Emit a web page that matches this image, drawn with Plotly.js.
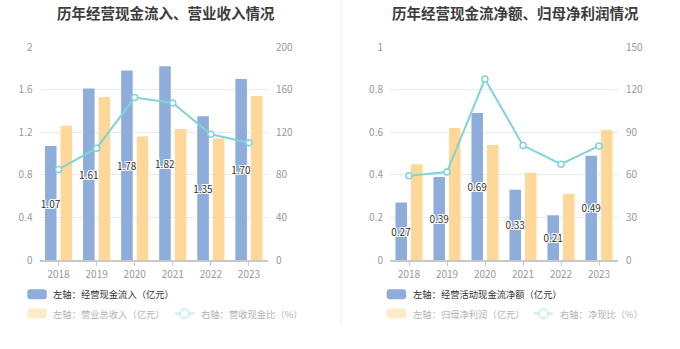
<!DOCTYPE html>
<html>
<head>
<meta charset="utf-8">
<script src="https://cdn.plot.ly/plotly-3.0.1.min.js"></script>
<style>
html,body{margin:0;padding:0;background:#fff;}
#chart{width:680px;height:349px;}
</style>
</head>
<body>
<div id="chart"></div>
<script>
// ---- data ----
var years = ['2018', '2019', '2020', '2021', '2022', '2023'];
var cashIn = [1.07, 1.61, 1.78, 1.82, 1.35, 1.70];          // 经营现金流入（亿元）
var revenue = [1.26, 1.53, 1.16, 1.23, 1.14, 1.54];         // 营业总收入（亿元）
var cashRatio = [85, 105, 152.5, 147.5, 118, 110];          // 营收现金比（%）
var netCash = [0.27, 0.39, 0.69, 0.33, 0.21, 0.49];         // 经营活动现金流净额（亿元）
var netProfit = [0.45, 0.62, 0.54, 0.41, 0.31, 0.61];       // 归母净利润（亿元）
var netRatio = [59.3, 62, 127.5, 80.7, 67.5, 80.3];         // 净现比（%）

var leftTicks = [0, 0.4, 0.8, 1.2, 1.6, 2];
var leftTickText = ['0', '0.4', '0.8', '1.2', '1.6', '2'];
var rightTicks = [0, 40, 80, 120, 160, 200];
var leftTicks2 = [0, 0.2, 0.4, 0.6, 0.8, 1];
var leftTickText2 = ['0', '0.2', '0.4', '0.6', '0.8', '1'];
var rightTicks2 = [0, 30, 60, 90, 120, 150];

var titles = ['历年经营现金流入、营业收入情况', '历年经营现金流净额、归母净利润情况'];
var legendLeft = ['左轴：经营现金流入（亿元）', '左轴：营业总收入（亿元）', '右轴：营收现金比（%）'];
var legendRight = ['左轴：经营活动现金流净额（亿元）', '左轴：归母净利润（亿元）', '右轴：净现比（%）'];

// ---- style ----
var W = 680, H = 349;
var BLUE = '#8eaddb', ORANGE = '#ffd899', TEAL = '#80d4d8';
var FONT = '"Noto Sans CJK SC", "Noto Sans", sans-serif';
function X(px) { return px / W; }
function Y(py) { return 1 - py / H; }

var labelFont = {family: FONT, size: 10, color: '#333',
  shadow: '-1px -1px 0 #fff, 1px -1px 0 #fff, -1px 1px 0 #fff, 1px 1px 0 #fff, 0 1px 0 #fff, 0 -1px 0 #fff, 1px 0 0 #fff, -1px 0 0 #fff'};

function barTrace(x, y, color, xa, ya, withText) {
  var t = {type: 'bar', x: x, y: y, xaxis: xa, yaxis: ya,
    marker: {color: color, line: {width: 0}}, showlegend: false, hoverinfo: 'x+y'};
  if (withText) {
    t.texttemplate = '%{y:.2f}';
    t.textposition = 'inside';
    t.insidetextanchor = 'middle';
    t.constraintext = 'none';
    t.textangle = 0;
    t.insidetextfont = labelFont;
    t.textfont = labelFont;
  }
  return t;
}
function lineTrace(x, y, xa, ya) {
  return {type: 'scatter', mode: 'lines+markers', x: x, y: y, xaxis: xa, yaxis: ya,
    line: {color: TEAL, width: 2},
    marker: {symbol: 'circle', size: 6, color: '#fff', line: {color: TEAL, width: 1.5}},
    showlegend: false, cliponaxis: false};
}

var data = [
  barTrace(years, cashIn, BLUE, 'x', 'y', true),
  barTrace(years, revenue, ORANGE, 'x', 'y', false),
  lineTrace(years, cashRatio, 'x', 'y2'),
  barTrace(years, netCash, BLUE, 'x2', 'y3', true),
  barTrace(years, netProfit, ORANGE, 'x2', 'y3', false),
  lineTrace(years, netRatio, 'x2', 'y4')
];

var tickFont = {family: FONT, size: 10, color: '#999'};
function xAxis(domain, anchor) {
  return {domain: domain, anchor: anchor, type: 'category', showgrid: false,
    showline: true, linecolor: '#c8c8c8', linewidth: 1.5,
    ticks: 'outside', ticklen: 4, tickcolor: '#c8c8c8', tickfont: tickFont,
    fixedrange: true, zeroline: false};
}
function yLeft(domain, anchor, range, vals, text) {
  return {domain: domain, anchor: anchor, range: range, tickvals: vals, ticktext: text,
    showgrid: true, gridcolor: '#e6eaf4', gridwidth: 1, zeroline: false, showline: false,
    ticks: '', tickfont: tickFont, ticklabelstandoff: 6, fixedrange: true};
}
function yRight(overlay, anchor, range, vals) {
  return {overlaying: overlay, anchor: anchor, side: 'right', range: range, tickvals: vals,
    showgrid: false, zeroline: false, showline: false, ticks: '', tickfont: tickFont,
    ticklabelstandoff: 7, fixedrange: true};
}

var yDom = [Y(260), Y(47)];

function rrect(x0, y0, x1, y1, r) {
  // rounded rectangle path in paper coordinates, given pixel coords
  var p = 'M' + X(x0 + r) + ',' + Y(y0) +
    ' L' + X(x1 - r) + ',' + Y(y0) +
    ' Q' + X(x1) + ',' + Y(y0) + ' ' + X(x1) + ',' + Y(y0 + r) +
    ' L' + X(x1) + ',' + Y(y1 - r) +
    ' Q' + X(x1) + ',' + Y(y1) + ' ' + X(x1 - r) + ',' + Y(y1) +
    ' L' + X(x0 + r) + ',' + Y(y1) +
    ' Q' + X(x0) + ',' + Y(y1) + ' ' + X(x0) + ',' + Y(y1 - r) +
    ' L' + X(x0) + ',' + Y(y0 + r) +
    ' Q' + X(x0) + ',' + Y(y0) + ' ' + X(x0 + r) + ',' + Y(y0) + ' Z';
  return {type: 'path', xref: 'paper', yref: 'paper', path: p,
    line: {width: 0}, layer: 'above'};
}

var shapes = [];
var annotations = [];
function legendBlock(ox, names, rowLineX) {
  var s1 = rrect(ox, 289.3, ox + 19.5, 299.3, 3); s1.fillcolor = BLUE; shapes.push(s1);
  var s2 = rrect(ox, 308.5, ox + 19.5, 318.5, 3); s2.fillcolor = '#ffebcb'; shapes.push(s2);
  // line symbol
  shapes.push({type: 'line', xref: 'paper', yref: 'paper',
    x0: X(rowLineX), x1: X(rowLineX + 19), y0: Y(313.5), y1: Y(313.5),
    line: {color: '#c4ecee', width: 2}});
  shapes.push({type: 'circle', xref: 'paper', yref: 'paper',
    x0: X(rowLineX + 9.5 - 4.5), x1: X(rowLineX + 9.5 + 4.5), y0: Y(313.5 + 4.5), y1: Y(313.5 - 4.5),
    fillcolor: '#fff', line: {color: '#c4ecee', width: 1.5}});
  var tf1 = {family: FONT, size: 9.3, color: '#333'};
  var tf2 = {family: FONT, size: 9.3, color: '#b3b3b3'};
  annotations.push({xref: 'paper', yref: 'paper', x: X(ox + 24), y: Y(294.3), xanchor: 'left', yanchor: 'middle',
    text: names[0], showarrow: false, font: tf1});
  annotations.push({xref: 'paper', yref: 'paper', x: X(ox + 24), y: Y(313.5), xanchor: 'left', yanchor: 'middle',
    text: names[1], showarrow: false, font: tf2});
  annotations.push({xref: 'paper', yref: 'paper', x: X(rowLineX + 24), y: Y(313.5), xanchor: 'left', yanchor: 'middle',
    text: names[2], showarrow: false, font: tf2});
}
legendBlock(27.3, legendLeft, 175);
legendBlock(386.7, legendRight, 534);

// titles
annotations.push({xref: 'paper', yref: 'paper', x: X(165.5), y: Y(12), xanchor: 'center', yanchor: 'middle',
  text: titles[0], showarrow: false, font: {family: FONT, size: 14.5, color: '#3d3d3d', weight: 'bold'}});
annotations.push({xref: 'paper', yref: 'paper', x: X(515), y: Y(12), xanchor: 'center', yanchor: 'middle',
  text: titles[1], showarrow: false, font: {family: FONT, size: 14.5, color: '#3d3d3d', weight: 'bold'}});

// divider
shapes.push({type: 'line', xref: 'paper', yref: 'paper', x0: X(341), x1: X(341), y0: Y(0), y1: Y(326),
  line: {color: '#f0f0f0', width: 1}});

var layout = {
  width: W, height: H,
  margin: {l: 0, r: 0, t: 0, b: 0, pad: 0},
  paper_bgcolor: '#fff', plot_bgcolor: 'rgba(0,0,0,0)',
  barmode: 'group', bargap: 0.18, bargroupgap: 0.26,
  showlegend: false,
  font: {family: FONT},
  xaxis: xAxis([X(39.5), X(268)], 'y'),
  yaxis: yLeft(yDom, 'x', [0, 2], leftTicks, leftTickText),
  yaxis2: yRight('y', 'x', [0, 200], rightTicks),
  xaxis2: xAxis([X(390), X(618)], 'y3'),
  yaxis3: yLeft(yDom, 'x2', [0, 1], leftTicks2, leftTickText2),
  yaxis4: yRight('y3', 'x2', [0, 150], rightTicks2),
  shapes: shapes,
  annotations: annotations
};

Plotly.newPlot('chart', data, layout, {displayModeBar: false, staticPlot: true});
</script>
</body>
</html>
